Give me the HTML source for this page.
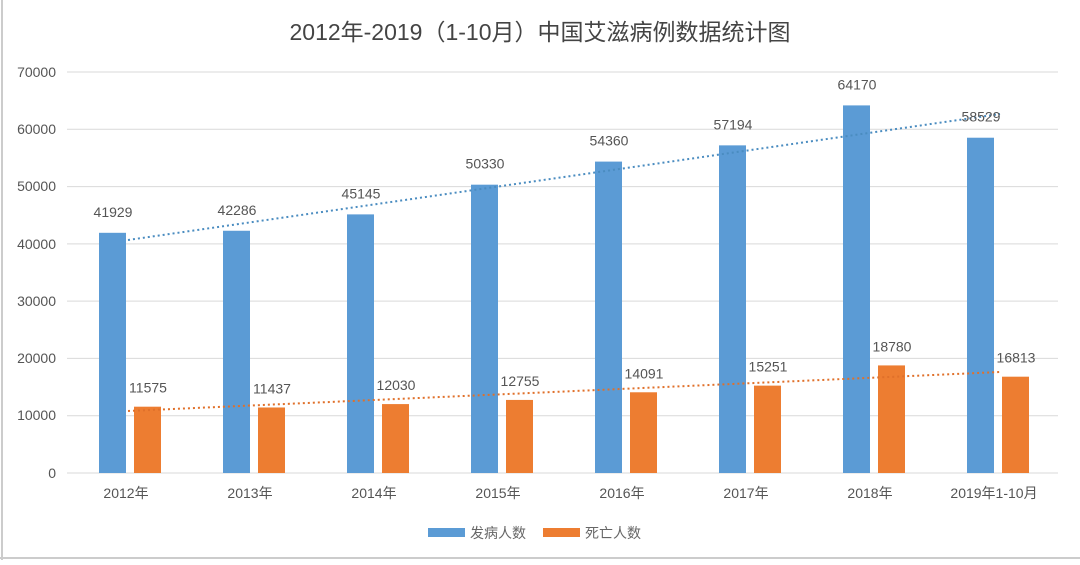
<!DOCTYPE html>
<html><head><meta charset="utf-8"><style>
body{margin:0;background:#fff;}
svg text{font-family:"Liberation Sans","Noto Sans CJK SC",sans-serif;}
</style></head><body>
<svg width="1080" height="560" viewBox="0 0 1080 560" xmlns="http://www.w3.org/2000/svg">
<rect x="0" y="0" width="1080" height="560" fill="#fff"/>
<line x1="2" y1="0" x2="2" y2="560" stroke="#ccc" stroke-width="2"/>
<line x1="0" y1="558" x2="1080" y2="558" stroke="#ccc" stroke-width="2"/>
<text x="540" y="40" font-size="23" text-anchor="middle" fill="#444">2012年-2019（1-10月）中国艾滋病例数据统计图</text>
<g stroke="#d9d9d9" stroke-width="1">
<line x1="67" y1="72" x2="1058" y2="72"/><line x1="67" y1="129.3" x2="1058" y2="129.3"/>
<line x1="67" y1="186.6" x2="1058" y2="186.6"/><line x1="67" y1="243.9" x2="1058" y2="243.9"/>
<line x1="67" y1="301.1" x2="1058" y2="301.1"/><line x1="67" y1="358.4" x2="1058" y2="358.4"/>
<line x1="67" y1="415.7" x2="1058" y2="415.7"/><line x1="67" y1="473" x2="1058" y2="473"/>
</g>
<g font-size="14" fill="#555" text-anchor="end">
<text x="56" y="77">70000</text><text x="56" y="134">60000</text><text x="56" y="191">50000</text>
<text x="56" y="249">40000</text><text x="56" y="306">30000</text><text x="56" y="363">20000</text>
<text x="56" y="420">10000</text><text x="56" y="478">0</text>
</g>
<g id="bars"></g>
<line x1="128" y1="240" x2="1000" y2="114" stroke="#4a8cc0" stroke-width="2" stroke-dasharray="2,3"/>
<line x1="128" y1="411" x2="1000" y2="372" stroke="#e0702a" stroke-width="2" stroke-dasharray="2,3"/>
<g font-size="14" fill="#555" text-anchor="middle" id="lbl"></g>
<rect x="428" y="528" width="37" height="9" fill="#5b9bd5"/>
<text x="470" y="538" font-size="14" fill="#666">发病人数</text>
<rect x="543" y="528" width="37" height="9" fill="#ed7d31"/>
<text x="585" y="538" font-size="14" fill="#666">死亡人数</text>
<script>
var b=[41929,42286,45145,50330,54360,57194,64170,58529],d=[11575,11437,12030,12755,14091,15251,18780,16813];
var cats=["2012年","2013年","2014年","2015年","2016年","2017年","2018年","2019年1-10月"];
var ns="http://www.w3.org/2000/svg",g=document.getElementById("bars"),L=document.getElementById("lbl");
function y(v){return 473-v*401/70000;}
function R(x,v,c){var r=document.createElementNS(ns,"rect");r.setAttribute("x",x);r.setAttribute("y",y(v));r.setAttribute("width",27);r.setAttribute("height",473-y(v));r.setAttribute("fill",c);g.appendChild(r);}
function T(x,yy,s){var t=document.createElementNS(ns,"text");t.setAttribute("x",x);t.setAttribute("y",yy);t.textContent=s;L.appendChild(t);}
for(var i=0;i<8;i++){var c=126+124*i;
R(c-27,b[i],"#5b9bd5");R(c+8,d[i],"#ed7d31");
T(c-13,y(b[i])-16,b[i]);T(c+22,y(d[i])-14,d[i]);T(c,498,cats[i]);}
</script>
</svg>
</body></html>
